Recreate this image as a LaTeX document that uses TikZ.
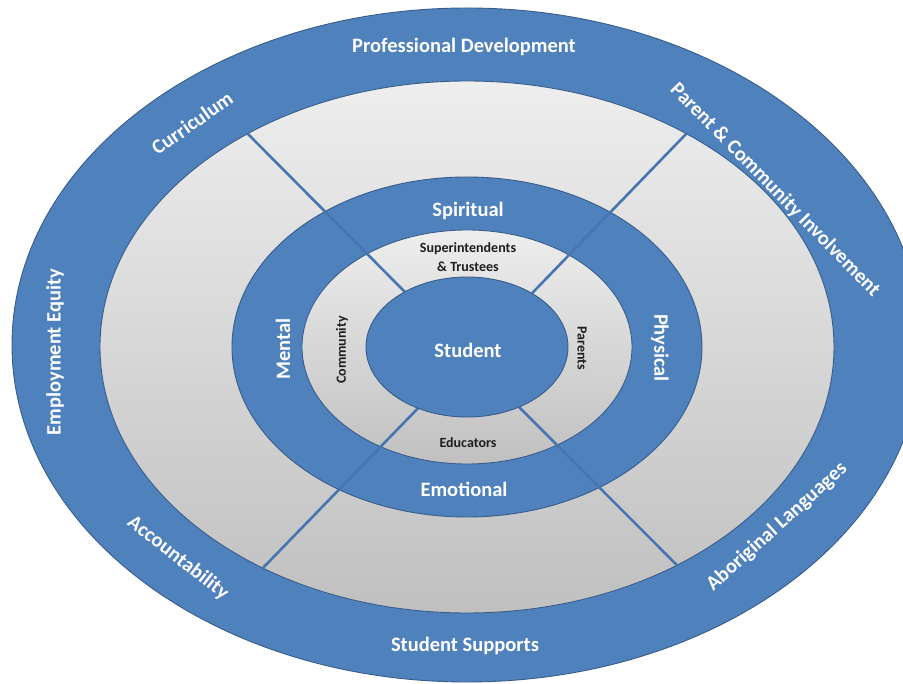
\documentclass[tikz,border=0pt]{standalone}
\usepackage{fontspec}
\setmainfont{Carlito}
\usetikzlibrary{positioning}
\definecolor{ringblue}{RGB}{79,129,189}
\definecolor{rimblue}{RGB}{56,93,138}
\definecolor{spokeblue}{RGB}{70,117,177}
\definecolor{greytop}{RGB}{238,238,238}
\definecolor{greybot}{RGB}{192,192,192}
\definecolor{labeldark}{RGB}{30,30,30}

\begin{document}
\begin{tikzpicture}[x=1pt,y=1pt,
  band/.style={draw=rimblue,line width=0.9pt,fill=ringblue},
  gap/.style={draw=rimblue,line width=0.9pt,top color=greytop,bottom color=greybot},
  spoke/.style={draw=spokeblue,line width=2.6pt},
  biglabel/.style={text=white,font=\fontsize{20.5}{24}\selectfont\bfseries,inner sep=0pt},
  smalllabel/.style={text=labeldark,font=\fontsize{14}{19}\selectfont\bfseries,inner sep=0pt,align=center}]
  \useasboundingbox (-467,-337) rectangle (436,347);
  % rings, outside in
  \draw[band] (0,2) ellipse (455 and 337);
  \draw[gap] (0,0) ellipse (367 and 266);
  \draw[band] (0,0) ellipse (235 and 170);
  \draw[gap] (0,0) ellipse (165 and 117);
  % spokes
  \coordinate (tlout) at (126.7:367 and 266);
  \coordinate (tlin) at (128:101 and 70);
  \coordinate (trout) at (53.3:367 and 266);
  \coordinate (trin) at (50:101 and 70);
  \coordinate (blout) at (236.2:367 and 266);
  \coordinate (blin) at (241:101 and 70);
  \coordinate (brout) at (-55.1:367 and 266);
  \coordinate (brin) at (-59:101 and 70);
  \draw[spoke] (tlout) -- (tlin);
  \draw[spoke] (trout) -- (trin);
  \draw[spoke] (blout) -- (blin);
  \draw[spoke] (brout) -- (brin);
  \draw[band] (0,0) ellipse (101 and 70);
  % outer band
  \node[biglabel] (prodev) at (-3,300) {Professional Development};
  \node[biglabel,rotate=35] (curric) at (-275,224) {Curriculum};
  \node[biglabel,rotate=-45.5] (parcom) at (308,157) {Parent \& Community Involvement};
  \node[biglabel,rotate=90] (empeq) at (-412,-5) {Employment Equity};
  \node[biglabel,rotate=-38] (account) at (-289,-211) {Accountability};
  \node[biglabel] (stusup) at (-2,-299) {Student Supports};
  \node[biglabel,rotate=42] (aborig) at (310,-180) {Aboriginal Languages};
  % middle ring
  \node[biglabel] (spirit) at (1,136) {Spiritual};
  \node[biglabel,rotate=90] (mental) at (-184,-2) {Mental};
  \node[biglabel,rotate=-90] (physic) at (193,-1) {Physical};
  \node[biglabel] (emotion) at (-3,-142) {Emotional};
  % inner ring
  \node[smalllabel] (supers) at (1,90) {Superintendents\\\& Trustees};
  \node[smalllabel,rotate=90] (commun) at (-125,-3) {Community};
  \node[smalllabel,rotate=-90] (parents) at (115,-1) {Parents};
  \node[smalllabel] (educ) at (1,-96) {Educators};
  \node[biglabel] (student) at (1,-3) {Student};
\end{tikzpicture}
\end{document}
